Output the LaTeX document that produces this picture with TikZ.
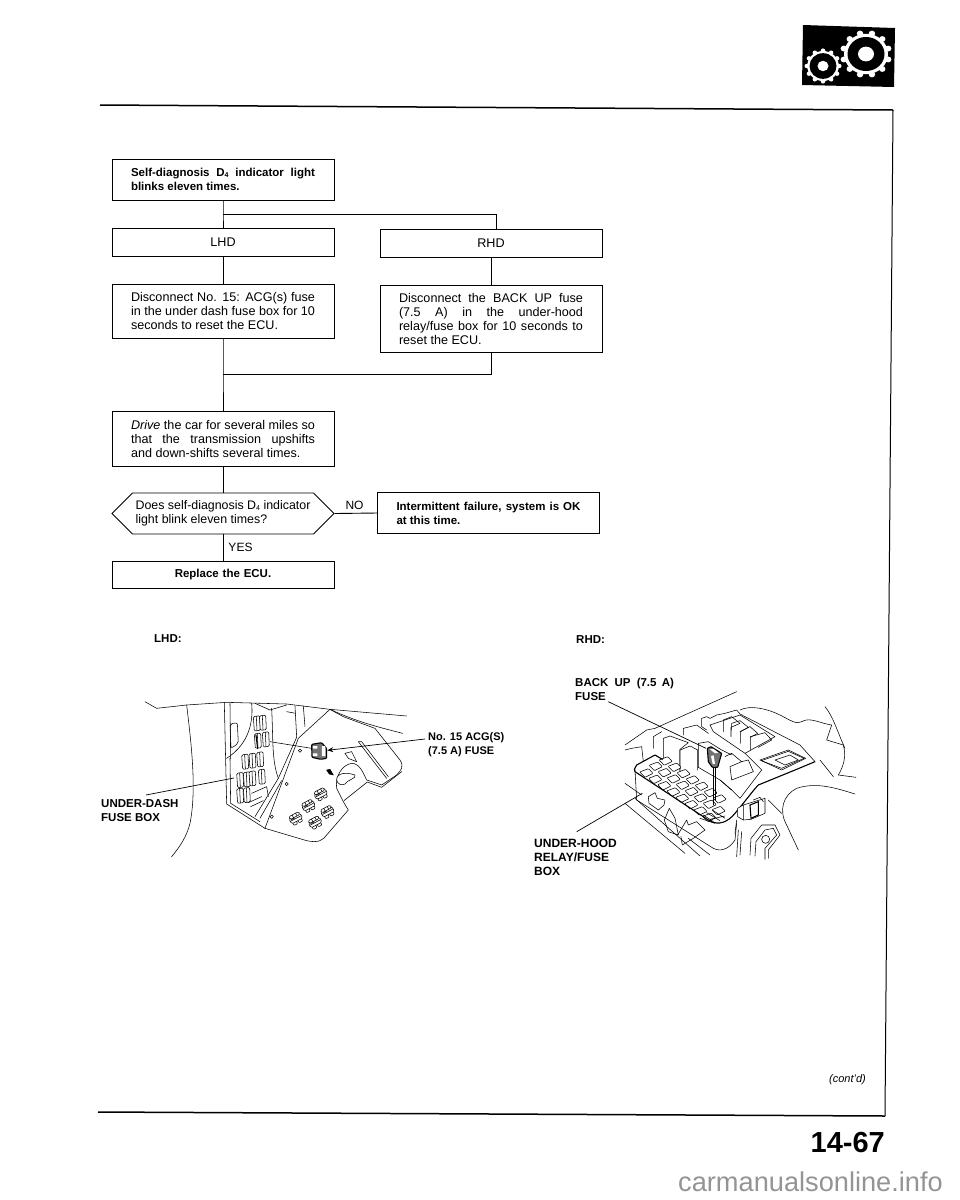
\documentclass[tikz,border=0pt]{standalone}
\usepackage{fontspec}
\setmainfont{Liberation Sans}
\usetikzlibrary{shapes.symbols,arrows.meta}
\newcommand{\jl}[1]{\leavevmode\hbox to 184pt{\spaceskip=0pt\xspaceskip=0pt #1}}
\newcommand{\el}[1]{\leavevmode\hbox to 184pt{#1\hfil}}
\newcommand{\Dfour}{D\raisebox{-0.6pt}{\fontsize{7}{7}\selectfont 4}}
\newcommand{\fc}[2]{\draw[ill,fill=white,rounded corners=1.2] (#1,#2) -- ++(19,-3) -- ++(2,44) -- ++(-18,2) -- cycle; \draw[ill] (#1+9,#2-1) -- ++(2,42);}
\newcommand{\rc}[2]{\begin{scope}[shift={(#1,#2)},rotate=28,scale=0.85]
\draw[ill,fill=white,rounded corners=0.8] (-17,-2) rectangle (-3,13); \draw[ill,fill=white,rounded corners=0.8] (3,-2) rectangle (17,13);
\draw[ill,fill=white,rounded corners=1.5] (-22,-16) rectangle (22,4);
\draw[ill] (-20,-6) -- (20,-6) (-16,-10) -- (-2,-10);
\draw[ill,fill=white,rounded corners=1.5] (-20,-23) rectangle (20,-12);
\draw[ill] (-6,-23) -- (-6,-12) (8,-23) -- (8,-12);
\end{scope}}
\newcommand{\rfb}[2]{\draw[ill,fill=white,rounded corners=0.8] (#1-18,#2-2) -- ++(26,-10) -- ++(14,14) -- ++(-24,12) -- cycle;}
\tikzset{
 box/.style={draw=black,line width=0.9pt,minimum width=222pt,inner sep=0pt,text width=184pt,align=flush left,font=\fontsize{12.6}{14}\selectfont},
 boxb/.style={box,font=\fontsize{11.5}{14}\selectfont\bfseries},
 boxc/.style={box,align=center},
 conn/.style={draw=black,line width=0.9pt},
 lab/.style={inner sep=0pt,anchor=west,align=left,font=\fontsize{11.5}{14.5}\selectfont\bfseries},
 plain/.style={inner sep=0pt,font=\fontsize{12}{14}\selectfont},
 ill/.style={draw=black,line width=0.55pt,line cap=round,line join=round},
 illb/.style={draw=black,line width=1.1pt,line cap=round,line join=round},
 lead/.style={draw=black,line width=0.7pt},
}
\begin{document}
\begin{tikzpicture}[x=1pt,y=-1pt]
\useasboundingbox (0,0) rectangle (960,1200);
% page frame
\coordinate (ftl) at (100,105);
\coordinate (ftr) at (893,110);
\coordinate (fbr) at (885,1116);
\coordinate (fbl) at (98,1112);
\draw[line width=1.5pt] (ftl) -- (ftr);
\draw[line width=1pt] (ftr) -- (fbr);
\draw[line width=1.5pt] (fbr) -- (fbl);
% icon
\fill[black] (803,25) -- (895,28) -- (894,87) -- (802,85) -- cycle;
\begin{scope}[shift={(866,54)},yscale=0.92]
\foreach \a in {15,45,...,345} \fill[white] (\a:23) circle (3.2);
\fill[white] (0,0) circle (22);
\fill[black] (0,0) circle (18.5);
\fill[white] (0,0) circle (8);
\end{scope}
\begin{scope}[shift={(823,66)},yscale=0.95]
\foreach \a in {0,30,...,330} \fill[white] (\a:16.2) circle (2.3);
\fill[white] (0,0) circle (15.8);
\fill[black] (0,0) circle (13.5);
\fill[white] (0,0) circle (5.5);
\end{scope}
% flowchart
\node[boxb,minimum height=41pt] (self) at (223,179.5) {\jl{Self-diagnosis \Dfour{} indicator light}\\\el{blinks eleven times.}};
\node[boxc,minimum height=28pt] (lhd) at (223,242) {LHD};
\node[boxc,minimum height=28pt] (rhd) at (491,243) {RHD};
\node[box,minimum height=54pt] (dl) at (223,311) {\jl{Disconnect No. 15: ACG(s) fuse}\\\jl{in the under dash fuse box for 10}\\\el{seconds to reset the ECU.}};
\node[box,minimum height=67pt] (dr) at (491,318.5) {\jl{Disconnect the BACK UP fuse}\\\jl{(7.5 A) in the under-hood}\\\jl{relay/fuse box for 10 seconds to}\\\el{reset the ECU.}};
\node[box,minimum height=55pt] (drv) at (223,438.5) {\jl{\textit{Drive} the car for several miles so}\\\jl{that the transmission upshifts}\\\el{and down-shifts several times.}};
\node[shape=signal,signal to=west and east,signal pointer angle=90,draw=black,line width=0.9pt,minimum width=222pt,minimum height=41pt,inner sep=0pt,align=left,font=\fontsize{12.4}{14}\selectfont] (hex) at (223,513.5) {Does self-diagnosis \Dfour{} indicator\\light blink eleven times?};
\node[boxc,minimum height=27pt,font=\fontsize{11.5}{14}\selectfont\bfseries] (rep) at (223,574.5) {Replace the ECU.};
\node[boxb,minimum height=41pt] (int) at (488.5,513) {\jl{Intermittent failure, system is OK}\\\el{at this time.}};
\coordinate (bt) at (223,214);
\coordinate (bj) at (223,374);
\draw[conn] (self.south) -- (bt) -- (lhd.north);
\draw[conn] (bt) -- ([xshift=5pt]bt -| rhd.north) -- ([xshift=5pt]rhd.north);
\draw[conn] (lhd.south) -- (dl.north);
\draw[conn] (rhd.south) -- (dr.north);
\draw[conn] (dl.south) -- (bj) -- (drv.north);
\draw[conn] (dr.south) |- (bj);
\draw[conn] (drv.south) -- (hex.north);
\draw[conn] (hex.south) -- (rep.north);
\draw[conn] (hex.east) -- (int.west);
\node[plain] (no) at (354.5,505) {NO};
\node[plain] (yes) at (240.5,547) {YES};
% captions
\node[lab] (lcap) at (154,639) {LHD:};
\node[lab] (rcap) at (576,640) {RHD:};
\node[lab] (bk) at (575,689.5) {BACK\hspace{3pt} UP\hspace{3pt} (7.5\hspace{2pt} A)\\FUSE};
\node[lab,font=\fontsize{12}{14}\selectfont\bfseries] (uh) at (534,857) {UNDER-HOOD\\RELAY/FUSE\\BOX};
\node[lab] (ud) at (101,810.5) {UNDER-DASH\\FUSE BOX};
\node[lab,font=\fontsize{11}{14.5}\selectfont\bfseries] (no15) at (428,744.5) {No. 15 ACG(S)\\(7.5 A) FUSE};
\node[inner sep=0pt,anchor=east,font=\fontsize{11}{13}\selectfont\itshape] (cd) at (866,1080) {(cont'd)};
\node[inner sep=0pt,anchor=east,font=\fontsize{29}{30}\selectfont\bfseries] (pg) at (885,1143) {14-67};
\node[inner sep=0pt,anchor=base east,text=black!42,font=\fontsize{27.2}{30}\selectfont] (wm) at (943,1191.5) {carmanualsonline.info};
% LHD illustration
\begin{scope}[shift={(130pt,-680pt)},x=0.3333pt,y=-0.3333pt]
\draw[ill] (45,65) -- (80,85) -- (170,75) -- (290,67) -- (470,72) -- (600,88) -- (830,108);
\draw[ill] (600,88) .. controls (680,125) and (740,140) .. (818,160);
\draw[ill] (170,75) .. controls (185,200) and (200,330) .. (180,430) .. controls (170,470) and (150,500) .. (125,530);
\draw[ill] (283,70) -- (290,372) -- (405,445);
\draw[ill] (300,70) -- (302,235) (300,235) -- (302,370) -- (390,425);
\draw[ill,rounded corners=2] (300,132) -- (322,128) -- (325,190) -- (303,205) -- cycle;
\draw[ill] (405,445) -- (530,482) .. controls (565,490) and (580,480) .. (590,465) -- (655,390) -- (640,365) -- (620,325) .. controls (615,290) and (635,255) .. (665,250) .. controls (690,250) and (700,280) .. (710,300) -- (755,315) -- (800,285) .. controls (815,270) and (822,258) .. (810,240) -- (735,145) -- (640,110) -- (600,88);
\draw[ill] (642,362) -- (712,306) -- (755,322) -- (815,275);
\draw[ill] (600,88) -- (505,175) -- (405,445);
\draw[ill] (500,172) -- (445,295) -- (375,410) (455,302) -- (390,415);
\draw[ill] (495,78) -- (500,170) (520,78) -- (525,140) (497,100) -- (470,95);
\draw[ill] (365,70) .. controls (370,120) and (360,190) .. (290,235);
\draw[ill] (425,85) .. controls (430,180) and (425,240) .. (445,295);
\draw[ill] (375,70) -- (420,90) -- (470,75);
\draw[ill] (685,185) -- (770,295) (695,185) -- (775,290) (685,185) -- (695,185);
\draw[ill] (645,220) -- (665,215) -- (680,245) -- (655,235) -- cycle;
\draw[ill,fill=black] (590,270) -- (600,268) -- (610,285) -- (598,282) -- cycle;
\draw[ill,fill=white] (620,300) .. controls (620,280) and (645,275) .. (675,285) .. controls (682,295) and (650,300) .. (645,312) .. controls (635,318) and (622,312) .. (620,300) -- cycle;
\fc{370}{110}\fc{388}{108}
\fc{373}{162}\fc{397}{158}
\fc{335}{225}\fc{357}{222}\fc{380}{218}
\fc{320}{280}\fc{340}{278}\fc{357}{275}\fc{385}{270}
\fc{320}{327}\fc{340}{325}
\draw[ill] (362,380) -- (400,362) (355,368) -- (395,350) (365,340) -- (410,320) (410,320) -- (415,350);
\draw[illb] (378,165) -- (383,205);
\draw[ill] (420,185) -- (545,205);
\draw[ill] (510,212) circle (5) (470,312) circle (5) (425,410) circle (5);
\rc{500}{420}\rc{538}{382}\rc{575}{347}\rc{558}{432}\rc{595}{400}
\draw[illb,fill=black!55,rounded corners=1] (545,193) -- (575,188) -- (590,205) -- (590,235) -- (572,238) -- (546,232) -- cycle;
\fill[white] (549,198) rectangle (562,206) (549,220) rectangle (562,228) (576,198) rectangle (586,228);
\coordinate (fz) at (592,211);
\coordinate (fbx) at (312,294);
\draw[lead,-{Stealth[length=6pt,width=5pt]}] (885,177) -- (fz);
\draw[lead] (48,345) -- (fbx);
\end{scope}
% RHD: surroundings
\begin{scope}[shift={(560pt,-660pt)},x=0.3333pt,y=-0.3333pt]
\draw[ill] (540,150) .. controls (570,135) and (620,145) .. (660,165) .. controls (690,180) and (710,195) .. (725,185) .. controls (750,170) and (780,190) .. (815,195) -- (800,240) -- (850,255) .. controls (860,290) and (850,320) .. (835,345) -- (888,352);
\draw[ill] (795,140) .. controls (820,170) and (830,210) .. (855,265);
\draw[ill] (885,402) .. controls (830,385) and (770,365) .. (710,385) .. controls (670,405) and (655,450) .. (680,495) -- (715,570);
\draw[ill] (820,350) -- (780,300);
\coordinate (fr) at (438,265);
\coordinate (hb) at (247,400);
\end{scope}
% RHD: fuse box
\begin{scope}[shift={(625pt,-690pt)},x=0.3333pt,y=-0.3333pt]
\draw[ill] (0,165) -- (65,120) -- (90,115) -- (335,5);
\draw[ill] (0,180) -- (20,175) -- (50,170) -- (55,215);
\draw[ill] (85,175) -- (85,140) -- (110,125);
\draw[ill] (175,135) -- (175,115) -- (215,105) -- (250,130);
\draw[ill] (245,120) -- (230,110) -- (230,85) -- (245,80) -- (255,85) -- (275,75) -- (300,70) -- (335,60) -- (345,72);
\draw[ill] (345,72) -- (525,165) -- (570,215);
\draw[ill] (255,105) -- (345,75) -- (450,140) -- (360,190) -- (265,125) -- cycle;
\draw[ill] (295,125) -- (295,90) -- (320,80) -- (345,100) -- (318,112) -- (318,140);
\draw[ill] (320,120) -- (320,100) -- (345,92) -- (370,112) -- (347,125) -- (347,160);
\draw[ill] (345,125) -- (375,110) -- (398,130) -- (376,142) -- (376,180);
\draw[ill] (376,140) -- (420,128) -- (440,150) -- (400,172);
\draw[ill] (405,210) -- (490,180) -- (542,205) -- (470,240) -- cycle;
\draw[ill] (409,212) -- (490,184) -- (537,205) -- (470,235) -- cycle;
\draw[ill] (450,210) -- (495,195) -- (520,210) -- (480,225) -- cycle;
\draw[ill] (300,200) -- (320,190) -- (350,215) -- (315,230) -- (320,270) -- (385,245) -- (370,210) -- (350,215);
\draw[ill] (285,270) -- (320,300) -- (345,325) -- (410,240) (360,190) -- (410,240);
\draw[ill] (220,232) -- (220,160) -- (250,155) -- (290,180) -- (320,195);
\draw[ill,fill=white] (115,215) -- (115,145) -- (135,138) -- (190,158) -- (165,178) -- (165,240);
\draw[ill,fill=white] (165,245) -- (165,180) -- (195,168) -- (218,180) -- (218,240);
\draw[ill] (220,232) -- (285,270) -- (320,300);
% body
\draw[ill] (30,240) -- (35,330) -- (265,475) .. controls (285,485) and (310,480) .. (330,450) -- (335,400);
\draw[ill] (0,280) -- (50,315) (0,340) -- (180,490) (30,325) -- (225,498) (190,445) -- (255,495);
% fuse rows
\foreach \i in {0,...,7}{\rfb{62+27*\i}{248+19*\i}}
\foreach \i in {0,...,7}{\rfb{90+27*\i}{228+19*\i}}
\foreach \i in {0,...,6}{\rfb{120+27*\i}{212+19*\i}}
\draw[ill] (235,375) -- (265,395) (245,368) -- (285,392) (262,360) -- (300,385) (225,385) -- (270,400) (255,388) -- (300,378);
% rim
\draw[illb] (570,215) -- (510,240) -- (400,285) .. controls (385,300) and (360,335) .. (330,370) .. controls (310,395) and (280,410) .. (250,390) -- (30,245) -- (28,238) -- (35,225) -- (90,195) -- (112,208);
% notch and clips
\begin{scope}[shift={(0,240)}]
\draw[ill] (70,80) -- (90,68) -- (97,85) -- (120,90) -- (117,105) -- (100,120) -- (72,100) -- cycle;
\draw[ill] (118,150) -- (133,115) -- (150,145) -- (160,195) -- (130,185) -- cycle;
\draw[ill] (158,195) -- (185,150) -- (190,165) -- (215,155) -- (240,180) -- (205,205) -- (172,225) -- (168,200);
\draw[ill,fill=white] (338,115) -- (355,105) -- (420,85) -- (420,130) -- (378,148) -- (355,150) -- (338,140) -- cycle;
\draw[illb] (375,105) -- (400,95) -- (400,135) -- (378,145) -- cycle;
\draw[ill] (355,105) -- (355,150) (385,90) -- (405,82) -- (415,95);
\draw[ill] (335,150) -- (330,190) (340,180) -- (335,260) (350,185) -- (345,255);
\draw[ill] (375,255) -- (378,205) -- (410,165) -- (450,165) -- (465,195) -- (430,240) -- (430,265);
\draw[ill] (390,258) -- (393,215) -- (420,180) -- (445,175) -- (455,195) -- (420,235) -- (420,268);
\draw[ill] (422,208) circle (12);
\draw[ill] (430,90) -- (470,130);
\end{scope}
% fuse
\draw[illb,fill=black!55,rounded corners=0.6] (247,175) -- (258,170) -- (290,190) -- (278,232) -- (262,232) -- (250,215) -- cycle;
\fill[white] (255,178) -- (265,176) -- (280,188) -- (270,190) -- cycle (258,198) -- (266,196) -- (270,222) -- (263,222) -- cycle;
\draw[ill] (265,235) -- (265,345) (272,235) -- (272,330);
\end{scope}
\coordinate (bkf) at (608.3,701.7);
\coordinate (uhl) at (576.7,831.7);
\draw[lead] (bkf) -- (fr);
\draw[lead] (uhl) -- (hb);
\end{tikzpicture}
\end{document}
